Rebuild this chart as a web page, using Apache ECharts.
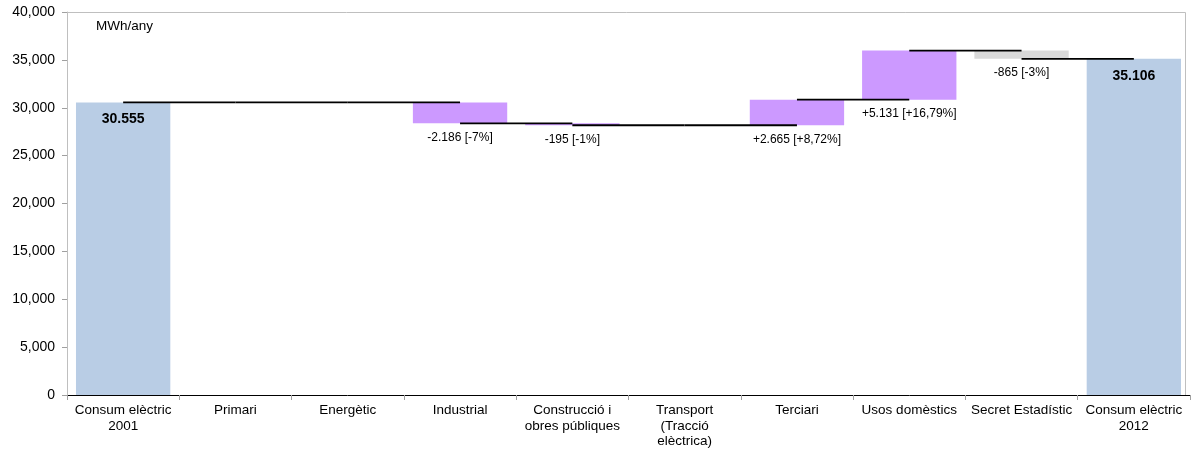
<!DOCTYPE html>
<html>
<head>
<meta charset="utf-8">
<script src="https://cdn.jsdelivr.net/npm/echarts@6/dist/echarts.min.js"></script>
<style>html,body{margin:0;padding:0;background:#fff;}#c{width:1196px;height:452px;}</style>
</head>
<body>
<div id="c"></div>
<script>
const categories = ['Consum elèctric\n2001', 'Primari', 'Energètic', 'Industrial', 'Construcció i\nobres públiques', 'Transport\n(Tracció\nelèctrica)', 'Terciari', 'Usos domèstics', 'Secret Estadístic', 'Consum elèctric\n2012'];
const startTotal = 30555;
const endTotal = 35106;
// changes for the middle categories (index 1..8)
const changes = [0, 0, -2186, -195, 0, 2665, 5131, -865];
const labelTexts = ['30.555', '', '', '-2.186 [-7%]', '-195 [-1%]', '', '+2.665 [+8,72%]', '+5.131 [+16,79%]', '-865 [-3%]', '35.106'];
const yTicks = [0, 5000, 10000, 15000, 20000, 25000, 30000, 35000, 40000];

const BLUE = '#B9CDE5', PURPLE = '#CC99FF', GREY = '#D9D9D9';

// build waterfall
const n = categories.length;
const base = [], height = [], cum = [];
let running = startTotal;
base.push(0); height.push(startTotal); cum.push(startTotal);
changes.forEach(d => {
  const prev = running;
  running = running + d;
  base.push(Math.min(prev, running));
  height.push(Math.abs(d));
  cum.push(running);
});
base.push(0); height.push(endTotal); cum.push(endTotal);

const barData = height.map((h, i) => {
  const isTotal = (i === 0 || i === n - 1);
  const isSecret = categories[i] === 'Secret Estadístic';
  const color = isTotal ? BLUE : (isSecret ? GREY : PURPLE);
  const lab = labelTexts[i];
  const item = { value: h, itemStyle: { color: color } };
  if (!lab || h === 0 && !isTotal) {
    item.label = { show: false };
  } else if (isTotal) {
    item.label = { show: true, position: 'insideTop', distance: 10, fontWeight: 'bold', fontSize: 14, formatter: lab };
  } else {
    item.label = { show: true, position: 'bottom', distance: 8, fontSize: 12, formatter: lab };
  }
  return item;
});

const connectorData = [];
for (let i = 0; i < n - 1; i++) connectorData.push([i, cum[i]]);

const chart = echarts.init(document.getElementById('c'), null, { renderer: 'canvas' });
const FONT = 'Liberation Sans, Arial, sans-serif';
chart.setOption({
  animation: false,
  textStyle: { fontFamily: FONT, color: '#000' },
  grid: { left: 67, right: 6, top: 12, bottom: 57, show: false },
  graphic: [
    { type: 'text', left: 96, top: 19, style: { text: 'MWh/any', font: '13.5px ' + FONT, fill: '#000' } },
    { type: 'line', shape: { x1: 67, y1: 12.5, x2: 1185.5, y2: 12.5 }, style: { stroke: '#BFBFBF', lineWidth: 1 }, z: 1 },
    { type: 'line', shape: { x1: 1185.5, y1: 12.5, x2: 1185.5, y2: 395 }, style: { stroke: '#BFBFBF', lineWidth: 1 }, z: 1 }
  ],
  xAxis: {
    type: 'category',
    data: categories,
    boundaryGap: true,
    axisLine: { lineStyle: { color: '#000', width: 1 } },
    axisTick: { show: true, length: 5, lineStyle: { color: '#A0A0A0' } },
    axisLabel: { interval: 0, fontSize: 13.5, color: '#000', margin: 8, lineHeight: 15.5, fontFamily: FONT }
  },
  yAxis: {
    type: 'value',
    min: 0, max: 40000, interval: 5000,
    axisLine: { show: true, lineStyle: { color: '#BFBFBF' } },
    axisTick: { show: true, length: 5, lineStyle: { color: '#A0A0A0' } },
    splitLine: { show: false },
    axisLabel: { fontSize: 14, color: '#000', margin: 12, fontFamily: FONT,
      formatter: v => yTicks.indexOf(v) >= 0 ? v.toLocaleString('en-US') : '' }
  },
  series: [
    { type: 'bar', stack: 'w', data: base, itemStyle: { color: 'transparent' }, barCategoryGap: '16%', silent: true },
    { type: 'bar', stack: 'w', data: barData, barCategoryGap: '16%',
      label: { color: '#000', fontFamily: FONT } },
    { type: 'custom', data: connectorData, z: 5,
      renderItem: (params, api) => {
        const i = api.value(0), v = api.value(1);
        const p1 = api.coord([i, v]);
        const p2 = api.coord([i + 1, v]);
        return { type: 'line', shape: { x1: p1[0], y1: p1[1], x2: p2[0], y2: p2[1] },
          style: { stroke: '#000', lineWidth: 1.8 } };
      } }
  ]
});
</script>
</body>
</html>
